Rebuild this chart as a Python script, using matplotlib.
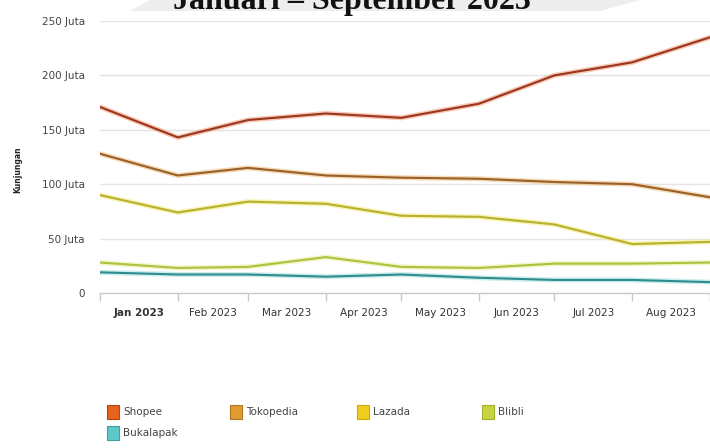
import matplotlib
matplotlib.use("Agg")
import matplotlib.pyplot as plt
import matplotlib.dates as mdates
from matplotlib.patches import Rectangle, Polygon
import numpy as np
import datetime as dt

months = ["2023-01-01", "2023-02-01", "2023-03-01", "2023-04-01", "2023-05-01",
          "2023-06-01", "2023-07-01", "2023-08-01", "2023-09-01"]
month_labels = ["Jan 2023", "Feb 2023", "Mar 2023", "Apr 2023", "May 2023",
                "Jun 2023", "Jul 2023", "Aug 2023"]
series_names = ["Shopee", "Tokopedia", "Lazada", "Blibli", "Bukalapak"]
shopee = [171, 143, 159, 165, 161, 174, 200, 212, 235]
tokopedia = [128, 108, 115, 108, 106, 105, 102, 100, 88]
lazada = [90, 74, 84, 82, 71, 70, 63, 45, 47]
blibli = [28, 23, 24, 33, 24, 23, 27, 27, 28]
bukalapak = [19, 17, 17, 15, 17, 14, 12, 12, 10]
y_ticks = [0, 50, 100, 150, 200, 250]
y_tick_labels = ["0", "50 Juta", "100 Juta", "150 Juta", "200 Juta", "250 Juta"]

line_colors = ["#9a3520", "#98602a", "#b8b030", "#b0c040", "#2e8c8c"]
halo_colors = ["#f2a27a", "#f0c080", "#f4ec80", "#e8f0a0", "#a8e0e0"]
swatch_colors = ["#e8621e", "#e09a30", "#f2cc1c", "#c8d440", "#5cc8c8"]
swatch_edges = ["#b04818", "#b07820", "#d0a810", "#a0b030", "#40a0a0"]

dates = [dt.datetime.strptime(m, "%Y-%m-%d") for m in months]
data = [shopee, tokopedia, lazada, blibli, bukalapak]

fig = plt.figure(figsize=(7.1, 4.48), dpi=100)
W, H = 710, 448
ax = fig.add_axes([100 / W, 1 - 293 / H, 610 / W, 272 / H])

for vals, lc, hc in zip(data, line_colors, halo_colors):
    ax.plot(dates, vals, color=hc, lw=3.6, alpha=0.6, solid_capstyle="round", zorder=3)
    ax.plot(dates, vals, color=lc, lw=1.5, solid_capstyle="round", zorder=4)

ax.set_xlim(dates[0], dates[-1])
ax.set_ylim(0, 250)
for s in ["top", "right", "left"]:
    ax.spines[s].set_visible(False)
ax.spines["bottom"].set_color("#c8c8c8")
ax.spines["bottom"].set_linewidth(1.0)

ax.set_yticks(y_ticks)
ax.set_yticklabels(y_tick_labels, fontsize=7.5, color="#444444", family="DejaVu Sans")
ax.tick_params(axis="y", length=0, pad=11)
for yv in y_ticks[1:]:
    ax.axhline(yv, color="#e4e4e4", lw=1.0, zorder=1)

ax.set_xticks(dates)
ax.set_xticklabels([])
ax.tick_params(axis="x", length=6, color="#c8c8c8", width=1)

# month labels centred in each month
for i, lab in enumerate(month_labels):
    mid = dates[i] + (dates[i + 1] - dates[i]) / 2
    ax.text(mdates.date2num(mid), -0.055, lab, transform=ax.get_xaxis_transform(),
            ha="center", va="top", fontsize=7.5, color="#333333",
            fontweight="bold" if i == 0 else "normal", family="DejaVu Sans")

fig.text(18 / W, 1 - 170 / H, "Kunjungan", rotation=90, ha="center", va="center",
         fontsize=5.5, fontweight="bold", color="#222222")

# faint scan smudge behind title
fig.patches.append(Polygon([[150 / W, 1.0], [640 / W, 1.0], [600 / W, 1 - 11 / H], [130 / W, 1 - 11 / H]],
                           closed=True, transform=fig.transFigure, facecolor="#e2e2e2",
                           edgecolor="none", alpha=0.6, zorder=0))
fig.text(352 / W, 1 - 9 / H, "Januari \u2013 September 2023", ha="center", va="baseline",
         fontsize=23, fontweight="bold", family="Liberation Serif", color="#111111")

# legend
leg_pos = [(107, 412), (230, 412), (357, 412), (482, 412), (107, 433)]
for (x, y), name, fc, ec in zip(leg_pos, series_names, swatch_colors, swatch_edges):
    fig.patches.append(Rectangle((x / W, 1 - (y + 7) / H), 12 / W, 14 / H,
                                 transform=fig.transFigure, facecolor=fc, edgecolor=ec, lw=0.8))
    fig.text((x + 16) / W, 1 - y / H, name, ha="left", va="center", fontsize=7.5,
             color="#444444")

fig.savefig("out.png", dpi=100)
